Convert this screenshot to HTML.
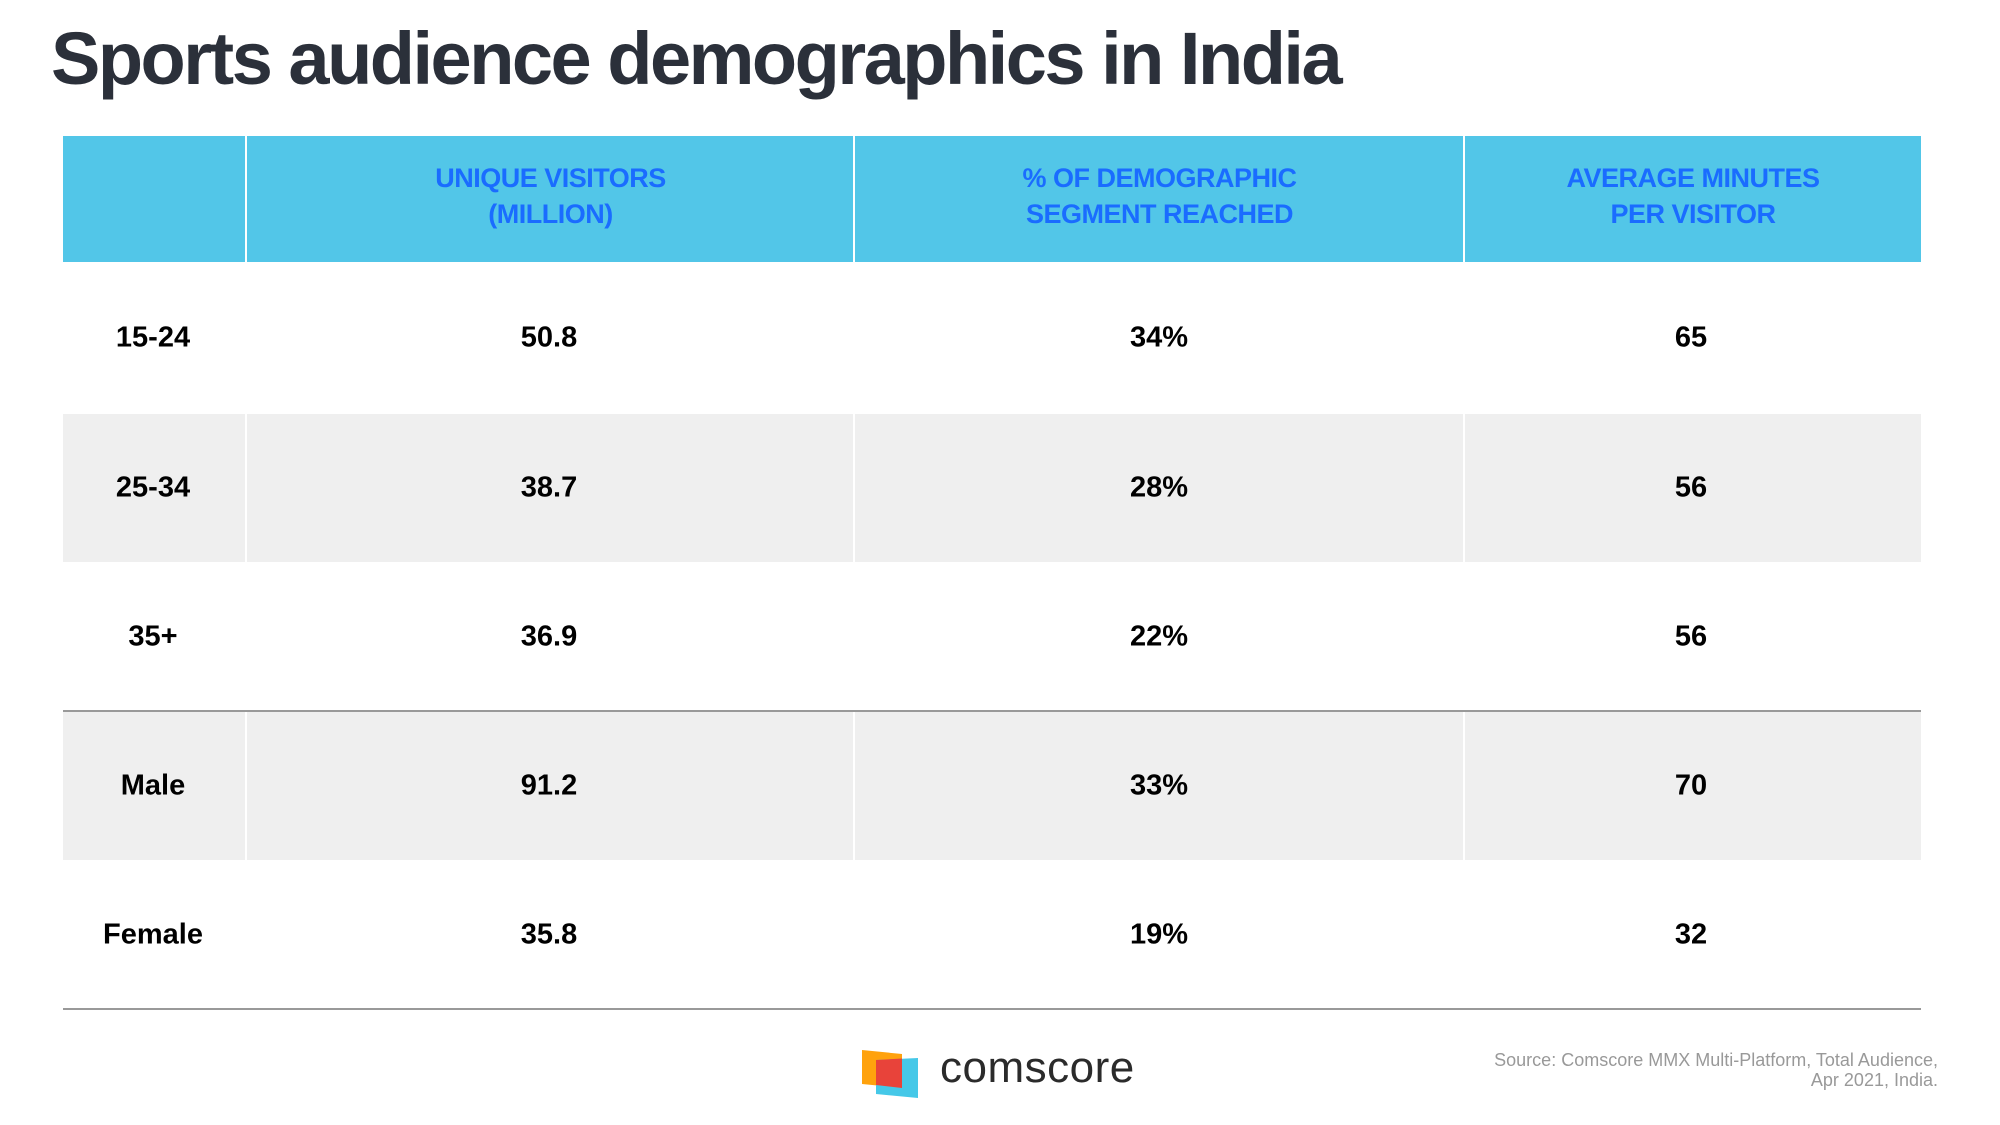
<!DOCTYPE html>
<html><head><meta charset="utf-8"><style>
body{margin:0;width:2000px;height:1125px;background:#fff;position:relative;overflow:hidden;font-family:"Liberation Sans",sans-serif}
.t{position:absolute;left:51px;top:16px;font-size:74px;font-weight:bold;color:#2b303a;letter-spacing:-2.5px;white-space:nowrap}
.hd{position:absolute;top:136px;height:126px;background:#52c6e8}
.ht{position:absolute;top:160px;text-align:center;color:#1a6cff;font-weight:bold;font-size:27px;line-height:36px;letter-spacing:-0.5px}
.row{position:absolute;left:63px;width:1858px}
.cell{position:absolute;transform:translate(-50%,-50%);font-weight:bold;font-size:29px;color:#000;white-space:nowrap}
.vd{position:absolute;width:2px;background:#fff}
.hl{position:absolute;left:63px;width:1858px;height:2px;background:#999}
</style></head><body>
<div class="t">Sports audience demographics in India</div>
<div class="hd" style="left:63px;width:1858px"></div>
<div class="ht" style="left:247px;width:607px">UNIQUE VISITORS<br>(MILLION)</div>
<div class="ht" style="left:855px;width:609px">% OF DEMOGRAPHIC<br>SEGMENT REACHED</div>
<div class="ht" style="left:1465px;width:456px">AVERAGE MINUTES<br>PER VISITOR</div>
<div class="row" style="top:414px;height:148px;background:#efefef"></div>
<div class="row" style="top:711px;height:149px;background:#efefef"></div>
<div class="vd" style="left:245px;top:136px;height:873px"></div>
<div class="vd" style="left:853px;top:136px;height:873px"></div>
<div class="vd" style="left:1463px;top:136px;height:873px"></div>
<div class="hl" style="top:710px"></div>
<div class="hl" style="top:1008px"></div>
<div id="cells"></div>
<svg style="position:absolute;left:862px;top:1050px" width="58" height="48" viewBox="0 0 58 48">
<polygon points="0,0 40,4 40,38 0,34" fill="#ffa20d"/>
<polygon points="14,10 56,8 56,48 14,44" fill="#45c8e8"/>
<polygon points="14,10 40,8.5 40,38 14,35" fill="#e8433a"/>
</svg>
<div style="position:absolute;left:940px;top:1043px;font-size:44px;color:#2b2b2b;letter-spacing:0.5px">comscore</div>
<div style="position:absolute;right:62px;top:1050px;text-align:right;font-size:18px;line-height:20px;color:#999">Source: Comscore MMX Multi-Platform, Total Audience,<br>Apr 2021, India.</div>
<script>
const segments=["15-24","25-34","35+","Male","Female"];
const uniqueVisitors=["50.8","38.7","36.9","91.2","35.8"];
const pctReached=["34%","28%","22%","33%","19%"];
const avgMinutes=["65","56","56","70","32"];
const rowTops=[262,414,562,711,860,1009];
const colX=[153,549,1159,1691];
const c=document.getElementById('cells');
segments.forEach((s,i)=>{
  const y=(rowTops[i]+rowTops[i+1])/2;
  [s,uniqueVisitors[i],pctReached[i],avgMinutes[i]].forEach((v,j)=>{
    const d=document.createElement('div');
    d.className='cell';
    d.style.left=colX[j]+'px';d.style.top=y+'px';
    d.textContent=v;
    
    
    c.appendChild(d);
  });
});
</script>
</body></html>
